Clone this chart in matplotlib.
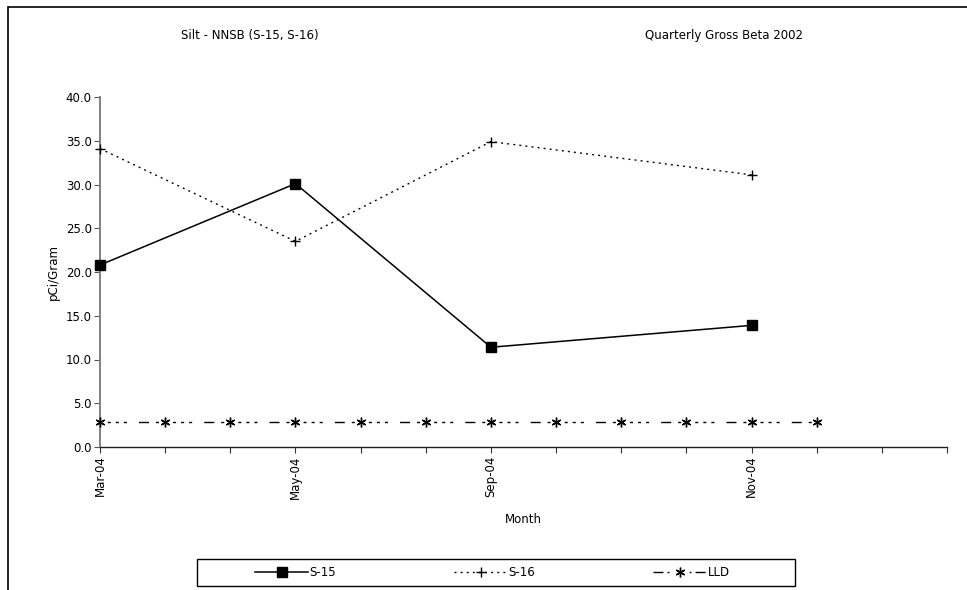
import numpy as np
import matplotlib
matplotlib.use("Agg")
import matplotlib.pyplot as plt
from matplotlib.patches import Rectangle
from matplotlib.lines import Line2D

# category axis: 14 slots, only a few labelled
labels = ["Mar-04", "", "", "May-04", "", "", "Sep-04", "", "", "",
          "Nov-04", "", "", ""]
s15_idx = [0, 3, 6, 10]
s15 = [20.8, 30.1, 11.4, 13.9]
s16_idx = [0, 3, 6, 10]
s16 = [34.1, 23.5, 34.9, 31.1]
lld_idx = list(range(12))
lld = [2.9] * 12

plt.rcParams['font.family'] = ['DejaVu Sans']
fig = plt.figure(figsize=(9.67, 5.9), dpi=100)
ax = fig.add_axes([100/967, 1-447/590, 847/967, 350/590])

h1, = ax.plot(s15_idx, s15, color='black', lw=1.1, marker='s', ms=6.5,
              label='S-15', clip_on=False, zorder=3)
h2, = ax.plot(s16_idx, s16, color='black', lw=1.0, dashes=(1.4, 3.0),
              marker='+', ms=7.5, mew=1.0, label='S-16', clip_on=False,
              zorder=3)
# dash-dot-dot-dot pattern, one period between LLD markers
lld_dash = [7.2, 5.0, 2.2, 3.6, 2.2, 4.3, 2.2, 3.6, 2.2, 3.6, 2.2, 8.7]
ax.plot(lld_idx, lld, color='black', lw=1.0, marker=(6, 2, 0),
        ms=7, mew=1.0, clip_on=False, zorder=3,
        linestyle=(19.3, lld_dash))
# legend handle: long dash on both sides of the marker
h3 = Line2D([], [], color='black', lw=1.0, marker=(6, 2, 0), ms=7, mew=1.0,
            linestyle=(0, (7.2, 2.9, 1.4, 14.5, 1.4, 2.9, 7.2, 3.0)),
            label='LLD')

ax.set_xlim(0, 13)
ax.set_ylim(0, 40)
ax.set_xticks(range(14))
ax.set_xticklabels(labels, rotation=90, fontsize=8.5)
ax.set_yticks(np.arange(0, 41, 5))
ax.set_yticklabels([f"{v:.1f}" for v in np.arange(0, 41, 5)], fontsize=8.5)
ax.tick_params(direction='out', length=4, width=0.8, pad=2, colors='#333333')
ax.tick_params(axis='y', colors='#555555', labelcolor='black')
ax.tick_params(axis='x', labelcolor='black')

for s in ['top', 'right']:
    ax.spines[s].set_visible(False)
ax.spines['left'].set_color('#808080')
ax.spines['left'].set_linewidth(1.4)
ax.spines['bottom'].set_color('#222222')
ax.spines['bottom'].set_linewidth(1.0)

ax.set_xlabel('Month', fontsize=8.5, labelpad=10)
ax.set_ylabel('pCi/Gram', fontsize=8.5, labelpad=4)

fig.text(250/967, 1-36/590, 'Silt - NNSB (S-15, S-16)', ha='center',
         va='center', fontsize=8.5)
fig.text(724/967, 1-36/590, 'Quarterly Gross Beta 2002', ha='center',
         va='center', fontsize=8.5)

# outer chart border
fig.patches.append(Rectangle((8/967, -0.05), 1.0, 1-7/590+0.05,
                             transform=fig.transFigure, fill=False,
                             edgecolor='black', lw=1.2, clip_on=False))
# legend frame
fig.patches.append(Rectangle((197/967, 1-586/590), 598/967, 27/590,
                             transform=fig.transFigure, fill=False,
                             edgecolor='black', lw=1.0))
fig.legend(handles=[h1, h2, h3], loc='center left',
           bbox_to_anchor=(255/967, 1-572.5/590),
           ncol=3, frameon=False, fontsize=8.5, handlelength=4.5,
           handletextpad=0.1, columnspacing=10.0, borderpad=0,
           borderaxespad=0)

fig.savefig('out.png', dpi=100)
